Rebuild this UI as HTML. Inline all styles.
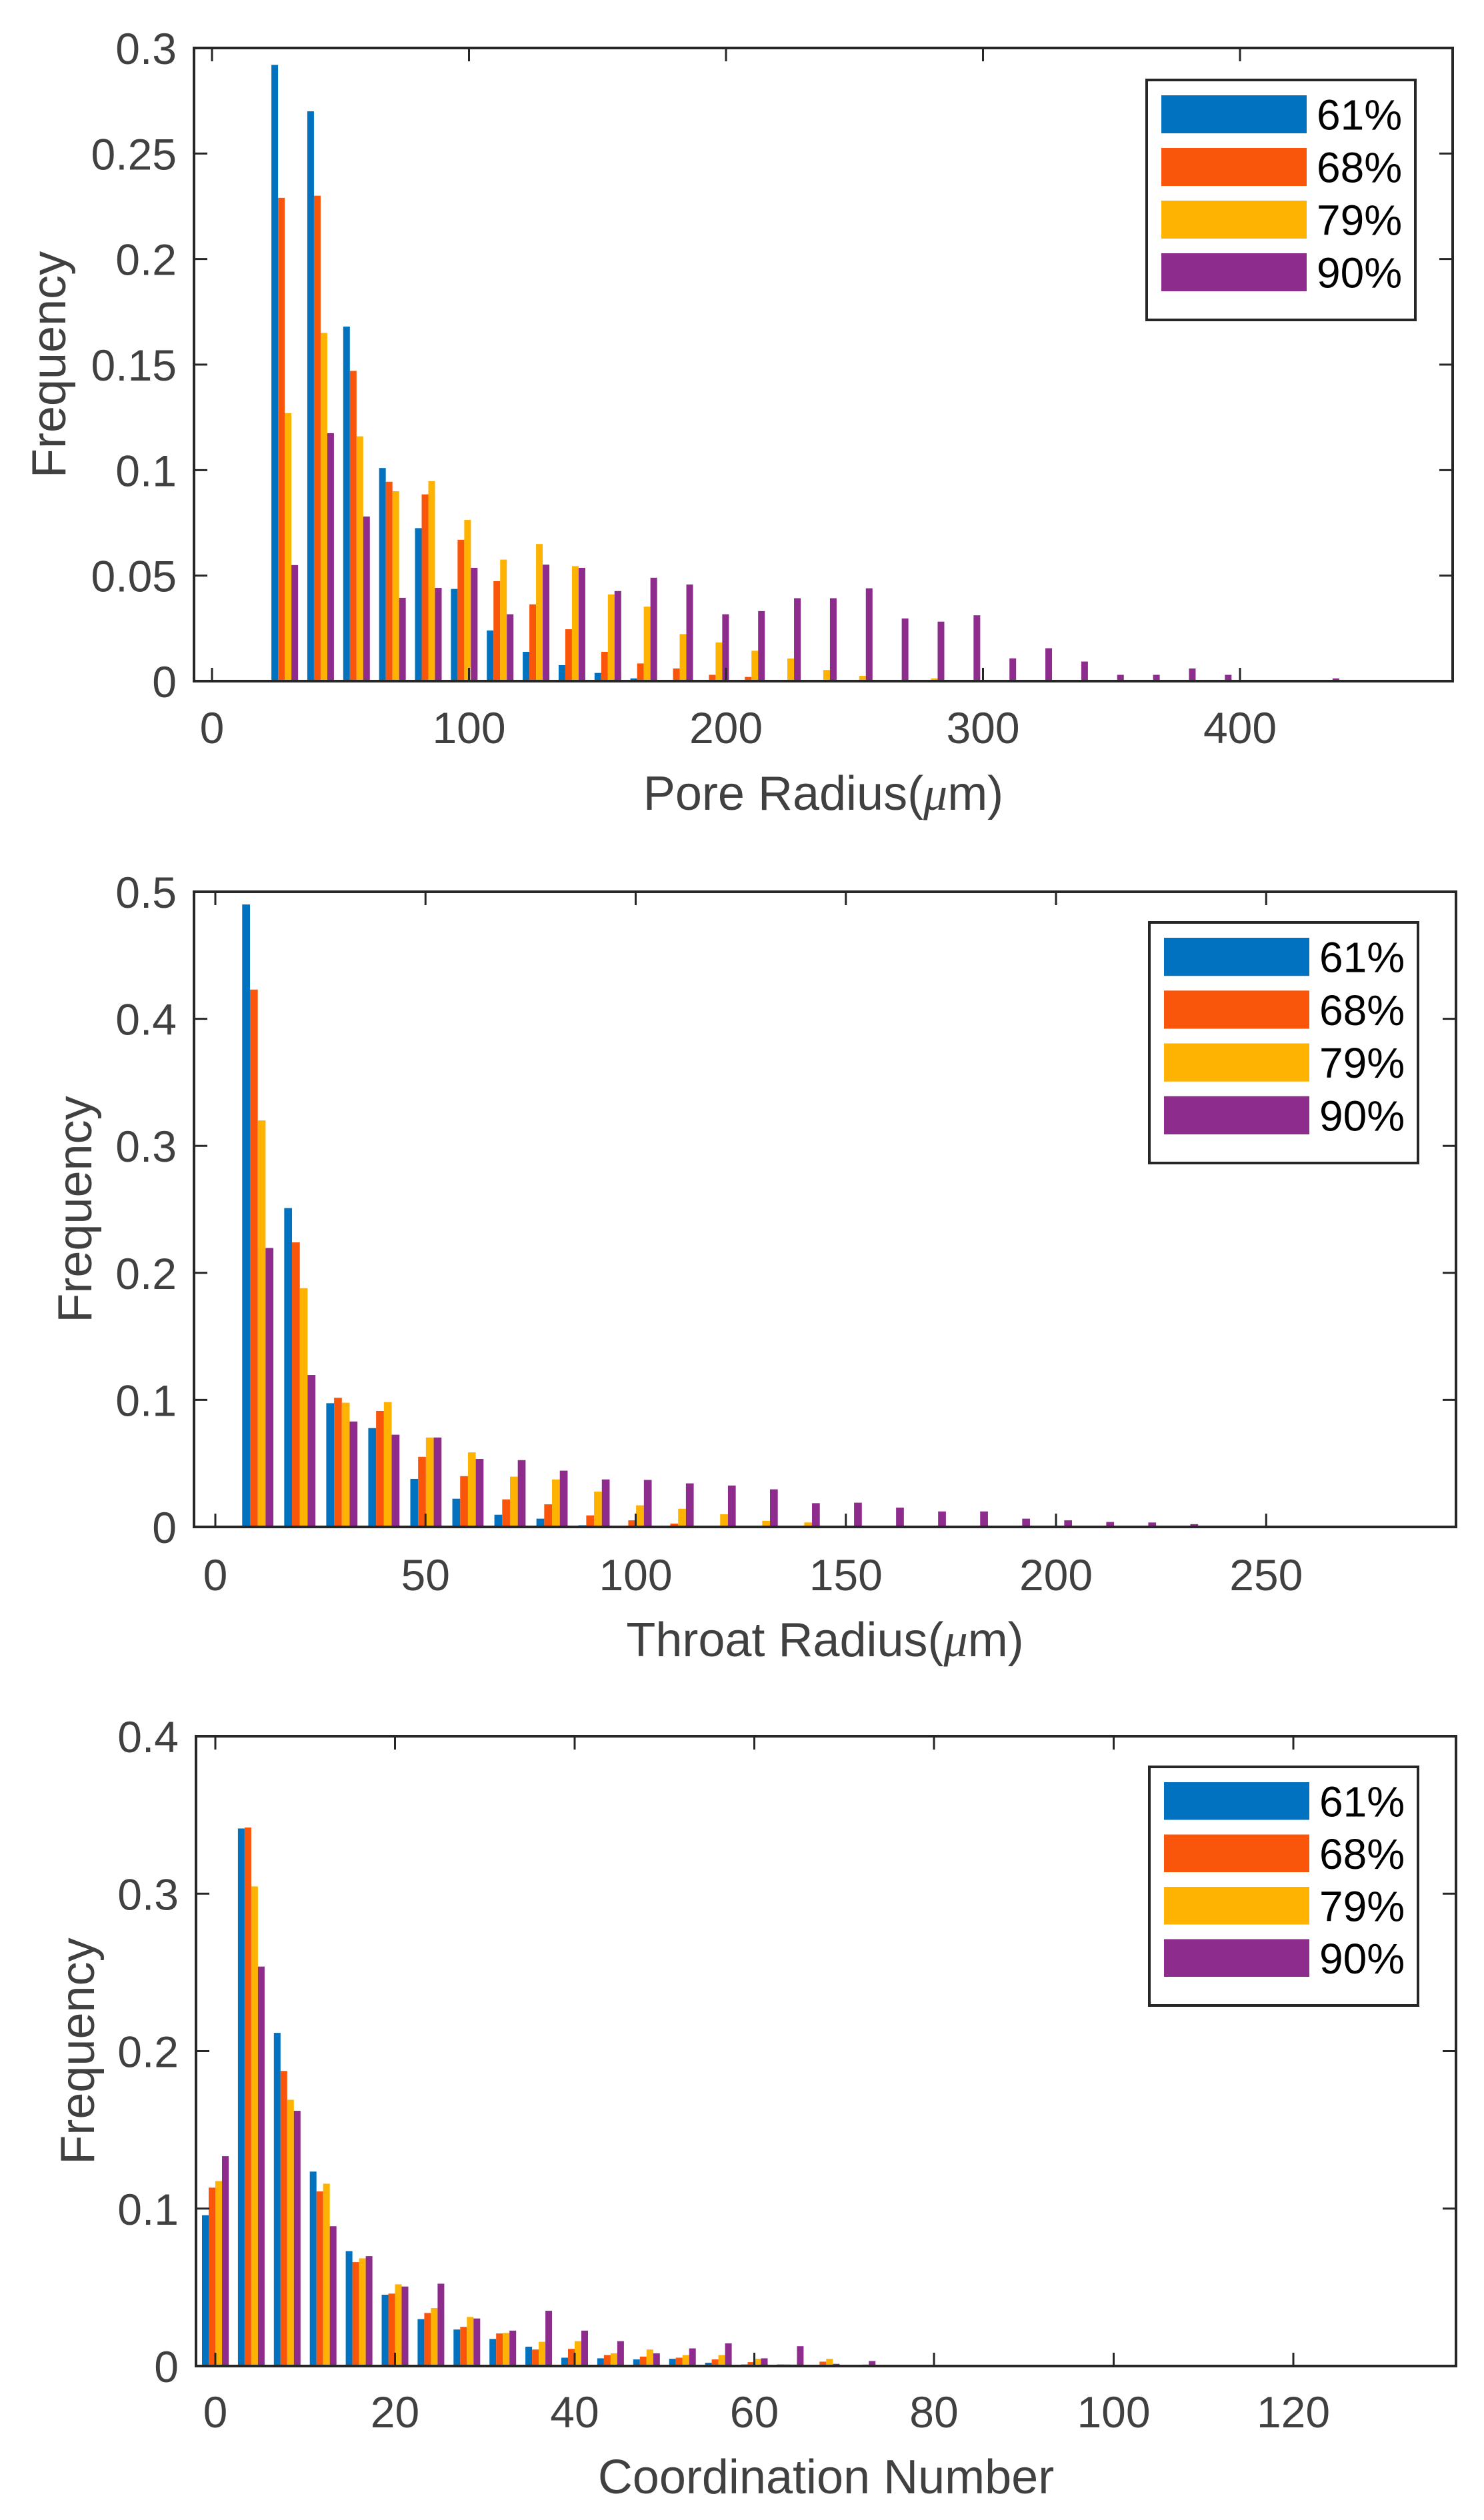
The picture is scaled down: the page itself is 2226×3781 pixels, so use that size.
<!DOCTYPE html>
<html><head><meta charset="utf-8"><title>Pore network histograms</title>
<style>
html,body{margin:0;padding:0;background:#fff;}
svg{display:block;}
text{font-family:"Liberation Sans",Arial,sans-serif;}
</style></head>
<body>
<svg id="fig" xmlns="http://www.w3.org/2000/svg" width="2226" height="3781" viewBox="0 0 2226 3781">
<rect x="0" y="0" width="2226" height="3781" fill="#fff"/>
</svg>
<script>
// ---------- data ----------
const seriesNames = ["61%", "68%", "79%", "90%"];

// Chart 1: pore radius
const poreTicksX = [0, 100, 200, 300, 400];
const poreTicksY = [0, 0.05, 0.1, 0.15, 0.2, 0.25, 0.3];
const poreTickLabelsY = ["0", "0.05", "0.1", "0.15", "0.2", "0.25", "0.3"];
const poreBinStart = 28.3;
const poreBinStep = 13.97;
const pore61 = [0.292,0.270,0.168,0.101,0.0725,0.0437,0.024,0.0139,0.0076,0.0039,0.0013,0,0,0,0,0,0,0,0,0,0,0,0,0,0,0,0,0,0,0];
const pore68 = [0.229,0.230,0.147,0.0945,0.0885,0.067,0.0474,0.0364,0.0246,0.0139,0.0084,0.006,0.003,0.002,0,0,0,0,0,0,0,0,0,0,0,0,0,0,0,0];
const pore79 = [0.127,0.165,0.116,0.090,0.0948,0.0764,0.0576,0.065,0.0545,0.0411,0.0353,0.0223,0.0183,0.0144,0.0107,0.0053,0.0025,0,0.0013,0,0,0,0,0,0,0,0,0,0,0];
const pore90 = [0.055,0.1175,0.078,0.0395,0.0442,0.0537,0.0317,0.0552,0.0537,0.0427,0.049,0.0458,0.0317,0.0332,0.0393,0.0393,0.044,0.0297,0.0282,0.0312,0.0108,0.0156,0.0093,0.003,0.003,0.006,0.003,0,0,0.0013];

// Chart 2: throat radius
const throatTicksX = [0, 50, 100, 150, 200, 250];
const throatTicksY = [0, 0.1, 0.2, 0.3, 0.4, 0.5];
const throatTickLabelsY = ["0", "0.1", "0.2", "0.3", "0.4", "0.5"];
const throatBinStart = 10.1;
const throatBinStep = 10;
const throat61 = [0.490,0.251,0.0974,0.0778,0.0378,0.0222,0.0096,0.0065,0.0013,0,0,0,0,0,0,0,0,0,0,0,0,0,0,0];
const throat68 = [0.423,0.224,0.1017,0.0913,0.0552,0.040,0.0217,0.0178,0.0091,0.0052,0.0026,0,0,0,0,0,0,0,0,0,0,0,0,0];
const throat79 = [0.320,0.188,0.0978,0.0983,0.0704,0.0587,0.0396,0.0374,0.0278,0.017,0.0143,0.010,0.0048,0.0035,0,0,0,0,0,0,0,0,0,0];
const throat90 = [0.2196,0.1196,0.083,0.0726,0.0704,0.0535,0.0526,0.0443,0.0374,0.037,0.0343,0.0326,0.0296,0.0187,0.0191,0.0152,0.0122,0.0122,0.0065,0.0052,0.0039,0.0035,0.0022,0.001];

// Chart 3: coordination number
const coordTicksX = [0, 20, 40, 60, 80, 100, 120];
const coordTicksY = [0, 0.1, 0.2, 0.3, 0.4];
const coordTickLabelsY = ["0", "0.1", "0.2", "0.3", "0.4"];
const coordBinStart = 0;
const coordBinStep = 4;
const coord61 = [0.0958,0.3414,0.2116,0.1235,0.073,0.0453,0.0298,0.0232,0.0172,0.0123,0.0053,0.0049,0.0042,0.0046,0.0021,0.001,0.001,0.0007,0,0,0,0,0,0,0,0,0,0,0,0,0,0,0,0];
const coord68 = [0.1133,0.342,0.1874,0.1109,0.066,0.046,0.0337,0.0249,0.0207,0.0105,0.0109,0.007,0.006,0.0053,0.0042,0.0025,0.001,0.0028,0,0,0.0007,0,0.0007,0.0007,0,0,0,0,0,0,0,0,0,0];
const coord79 = [0.1175,0.3046,0.1691,0.1158,0.0684,0.0519,0.0368,0.0312,0.021,0.0154,0.0158,0.0081,0.0105,0.007,0.007,0.0046,0.001,0.0046,0.001,0,0.0007,0.0007,0.0007,0,0,0,0,0,0,0,0,0,0,0];
const coord90 = [0.1333,0.2537,0.1621,0.0888,0.0698,0.0505,0.0523,0.0302,0.0225,0.0351,0.0225,0.0158,0.0081,0.0112,0.0144,0.0049,0.0126,0.0014,0.0032,0,0.0007,0,0,0.0007,0.0007,0,0,0.0007,0,0,0,0.0007,0,0.0007];

// ---------- drawing ----------
const NS = "http://www.w3.org/2000/svg";
const svg = document.getElementById("fig");
const colors = ["#0072BF", "#F9550B", "#FEB201", "#8E2C8E"];

function mk(tag, parent) {
  const e = document.createElementNS(NS, tag);
  parent.appendChild(e);
  return e;
}

function drawChart(cfg) {
  const g = mk("g", svg);
  
  
  const L = cfg.box[0], T = cfg.box[1], R = cfg.box[2], B = cfg.box[3];
  const xs = v => cfg.x0px + v * cfg.pxPerUnit;
  const ys = v => B - (v / cfg.ymax) * (B - T);

  const bars = mk("g", g);
  
  
  cfg.series.forEach((arr, si) => {
    arr.forEach((v, k) => {
      if (v <= 0) return;
      const c = cfg.binStart + cfg.binStep * k;
      const left = xs(c) + (si - 2) * cfg.slotPx;
      const r = mk("rect", bars);
      
      
      r.setAttribute("x", left.toFixed(2));
      r.setAttribute("y", ys(v).toFixed(2));
      r.setAttribute("width", cfg.slotPx.toFixed(2));
      r.setAttribute("height", (B - ys(v)).toFixed(2));
      r.setAttribute("fill", colors[si]);
    });
  });

  const tk = mk("g", g);
  tk.setAttribute("stroke", "#262626");
  tk.setAttribute("stroke-width", "3");
  cfg.ticksX.forEach(t => {
    [[B, B - 20], [T, T + 20]].forEach(p => {
      const l = mk("line", tk);
      
      
      l.setAttribute("x1", xs(t)); l.setAttribute("x2", xs(t));
      l.setAttribute("y1", p[0]); l.setAttribute("y2", p[1]);
    });
    const tx = mk("text", g);
    
    
    tx.setAttribute("x", xs(t));
    tx.setAttribute("y", cfg.xLabelBase);
    tx.setAttribute("text-anchor", "middle");
    tx.setAttribute("font-size", "66");
    tx.setAttribute("fill", "#404040");
    tx.textContent = String(t);
  });
  cfg.ticksY.forEach((t, i) => {
    [[L, L + 20], [R, R - 20]].forEach(p => {
      const l = mk("line", tk);
      
      
      l.setAttribute("x1", p[0]); l.setAttribute("x2", p[1]);
      l.setAttribute("y1", ys(t)); l.setAttribute("y2", ys(t));
    });
    const tx = mk("text", g);
    
    
    tx.setAttribute("x", L - 26);
    tx.setAttribute("y", ys(t) + 24);
    tx.setAttribute("text-anchor", "end");
    tx.setAttribute("font-size", "66");
    tx.setAttribute("fill", "#404040");
    tx.textContent = cfg.tickLabelsY[i];
  });

  const box = mk("rect", g);
  
  
  box.setAttribute("x", L); box.setAttribute("y", T);
  box.setAttribute("width", R - L); box.setAttribute("height", B - T);
  box.setAttribute("fill", "none");
  box.setAttribute("stroke", "#262626");
  box.setAttribute("stroke-width", "4");

  const xt = mk("text", g);
  
  
  xt.setAttribute("x", (L + R) / 2);
  xt.setAttribute("y", cfg.xTitleBase);
  xt.setAttribute("text-anchor", "middle");
  xt.setAttribute("font-size", "72");
  xt.setAttribute("fill", "#404040");
  xt.innerHTML = cfg.xTitle;

  const yt = mk("text", g);
  
  
  const cy = (T + B) / 2;
  yt.setAttribute("transform", "translate(" + cfg.yTitleX + "," + cy + ") rotate(-90)");
  yt.setAttribute("text-anchor", "middle");
  yt.setAttribute("font-size", "72");
  yt.setAttribute("fill", "#404040");
  yt.textContent = "Frequency";

  const lg = mk("g", g);
  
  
  const lb = mk("rect", lg);
  
  
  lb.setAttribute("x", cfg.legend[0]); lb.setAttribute("y", cfg.legend[1]);
  lb.setAttribute("width", 403); lb.setAttribute("height", cfg.legend[2]);
  lb.setAttribute("fill", "#fff");
  lb.setAttribute("stroke", "#262626");
  lb.setAttribute("stroke-width", "4");
  const rowH = (cfg.legend[2] - 44) / 4;
  seriesNames.forEach((n, i) => {
    const e = mk("g", lg);
    
    
    const top = cfg.legend[1] + 22 + i * rowH;
    const s = mk("rect", e);
    
    
    s.setAttribute("x", cfg.legend[0] + 22);
    s.setAttribute("y", top + 1);
    s.setAttribute("width", 218);
    s.setAttribute("height", rowH - 22);
    s.setAttribute("fill", colors[i]);
    const t = mk("text", e);
    
    
    t.setAttribute("x", cfg.legend[0] + 255);
    t.setAttribute("y", top + rowH / 2 + 13);
    t.setAttribute("font-size", "64");
    t.setAttribute("fill", "#000");
    t.textContent = n;
  });
}

const MU = '(<tspan font-family="Liberation Serif, serif" font-style="italic">μ</tspan>m)';

drawChart({
  name: "pore-radius-chart", box: [291, 72, 2179, 1022],
  x0px: 318, pxPerUnit: 3.855, ymax: 0.3,
  binStart: poreBinStart, binStep: poreBinStep, slotPx: 10,
  series: [pore61, pore68, pore79, pore90],
  ticksX: poreTicksX, ticksY: poreTicksY, tickLabelsY: poreTickLabelsY,
  xLabelBase: 1115, xTitleBase: 1215, yTitleX: 98,
  xTitle: "Pore Radius" + MU, legend: [1720, 120, 360]
});
drawChart({
  name: "throat-radius-chart", box: [291, 1338, 2184, 2291],
  x0px: 323, pxPerUnit: 6.305, ymax: 0.5,
  binStart: throatBinStart, binStep: throatBinStep, slotPx: 11.7,
  series: [throat61, throat68, throat79, throat90],
  ticksX: throatTicksX, ticksY: throatTicksY, tickLabelsY: throatTickLabelsY,
  xLabelBase: 2386, xTitleBase: 2485, yTitleX: 137,
  xTitle: "Throat Radius" + MU, legend: [1724, 1384, 361]
});
drawChart({
  name: "coordination-number-chart", box: [294, 2605, 2184, 3550],
  x0px: 323, pxPerUnit: 13.475, ymax: 0.4,
  binStart: coordBinStart, binStep: coordBinStep, slotPx: 10,
  series: [coord61, coord68, coord79, coord90],
  ticksX: coordTicksX, ticksY: coordTicksY, tickLabelsY: coordTickLabelsY,
  xLabelBase: 3642, xTitleBase: 3741, yTitleX: 141,
  xTitle: "Coordination Number", legend: [1724, 2651, 358]
});
</script>
</body></html>
